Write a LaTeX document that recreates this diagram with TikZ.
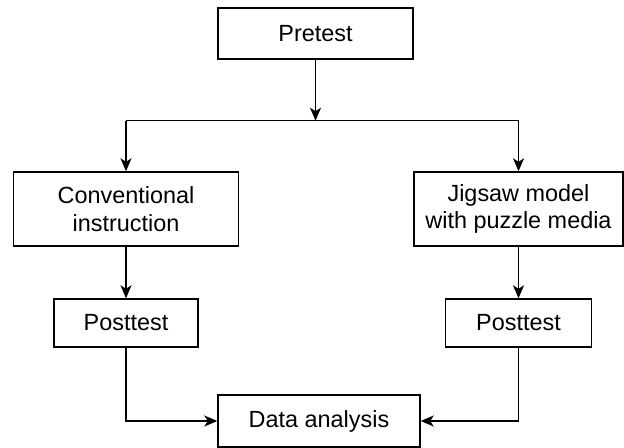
\documentclass[tikz,border=0pt]{standalone}
\usepackage{fontspec}
\setmainfont{Liberation Sans}
\usetikzlibrary{arrows.meta}
\begin{document}
\begin{tikzpicture}[x=1bp,y=-1bp,
	box/.style={draw,line width=1.4bp,align=center,inner sep=0pt,font=\fontsize{23.5}{28}\selectfont},
	arr/.style={-{Stealth[length=13bp,width=11bp,inset=3.5bp]},line width=1.4bp}]
	\useasboundingbox (0,0) rectangle (624,448);
	\node[box,minimum width=195bp,minimum height=51bp] (pre) at (315.5,33.5) {Pretest};
	\node[box,minimum width=225bp,minimum height=74bp] (conv) at (126,209) {Conventional\\instruction};
	\node[box,minimum width=209bp,minimum height=74bp] (jig) at (518.5,209) {Jigsaw model\\with puzzle media};
	\node[box,minimum width=144bp,minimum height=48bp] (postL) at (126,323) {Posttest};
	\node[box,minimum width=146bp,minimum height=48bp] (postR) at (518.5,323) {Posttest};
	\node[box,minimum width=202bp,minimum height=52bp] (data) at (319,421) {Data analysis};
	\path (pre.south) ++ (0,61) coordinate (split);
	% split to both groups
	\draw[line width=1.4bp] (conv |- split) -- (jig |- split);
	\draw[arr] (pre) -- (split);
	\draw[arr] (conv |- split) -- (conv);
	\draw[arr] (jig |- split) -- (jig);
	\draw[arr] (conv) -- (postL);
	\draw[arr] (jig) -- (postR);
	\draw[arr] (postL) |- (data);
	\draw[arr] (postR) |- (data);
\end{tikzpicture}
\end{document}
